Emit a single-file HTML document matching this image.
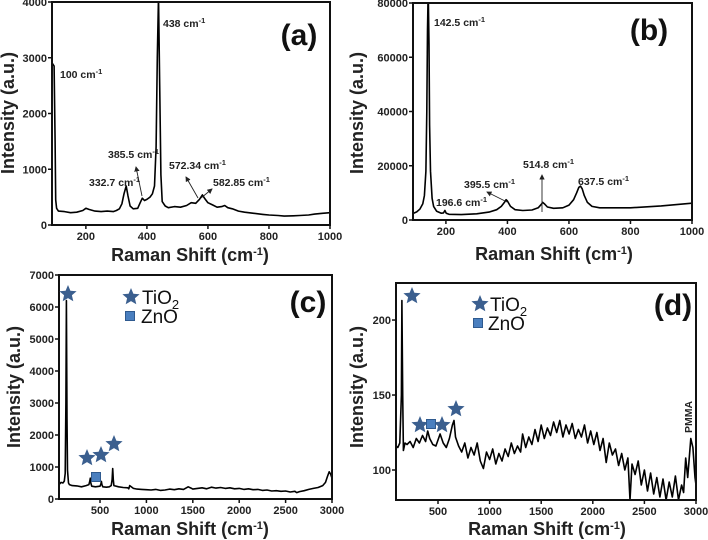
<!DOCTYPE html>
<html><head><meta charset="utf-8">
<style>
html,body{margin:0;padding:0;background:#fff;}
svg{display:block;font-family:"Liberation Sans",Arial,sans-serif;}
.tick{font-size:11px;font-weight:bold;fill:#222;}
.ttl{font-size:18px;font-weight:bold;fill:#222;}
.ann{font-size:10.5px;font-weight:bold;fill:#222;}
.lab{font-size:30px;font-weight:bold;fill:#111;}
.leg{font-size:19px;fill:#111;}
</style></head>
<body>
<svg id="fig" width="708" height="540" viewBox="0 0 708 540">
<defs>
<marker id="ah" markerWidth="6" markerHeight="6" refX="5" refY="3" orient="auto"><path d="M0,0L6,3L0,6z" fill="#222"/></marker>
</defs>
</svg>
<script>
// Panel (a)
const aX=[90,96,99,101,104,110,130,150,170,190,200,210,230,250,270,290,300,310,318,325,332,338,345,355,370,378,385,392,400,410,418,425,430,434,438,442,446,450,460,470,490,510,530,545,560,572,582,590,600,615,630,645,655,665,680,700,720,750,780,800,830,850,880,900,930,950,975,1000];
const aY=[2900,2850,1500,450,300,250,240,220,230,260,300,280,250,240,250,240,260,290,380,560,700,520,340,290,300,400,480,440,460,500,560,700,1400,3000,4100,2500,900,420,340,310,330,320,350,400,390,460,540,470,400,360,320,330,350,310,290,250,230,210,190,180,170,160,165,170,180,195,210,220];
const aXTicks=[200,400,600,800,1000];
const aYTicks=[0,1000,2000,3000,4000];
// Panel (b)
const bX=[95,105,115,125,130,135,138,140,142.5,145,147,150,155,160,170,185,192,196.6,201,210,250,300,340,365,380,390,395.5,400,410,425,450,480,500,510,514.8,520,530,550,580,600,615,625,632,637.5,643,650,660,675,700,800,900,1000];
const bY=[2500,3000,4000,6000,9000,18000,40000,70000,85000,65000,35000,18000,8000,5000,3200,2500,2600,3500,2500,2100,2000,2300,2900,3800,5000,6500,7500,7000,5000,3800,3500,3700,4500,5800,6500,6000,4800,4300,4500,5500,7500,10000,12000,12500,11500,9000,6500,5000,4500,4500,5200,6200];
const bXTicks=[200,400,600,800,1000];
const bYTicks=[0,20000,40000,60000,80000];
// Panel (c)
const cX=[58,80,100,115,125,132,138,144,150,160,170,200,250,300,350,380,390,395,400,410,450,500,510,515,520,530,570,600,620,630,637,643,650,700,750,800,810,820,860,900,950,1000,1050,1100,1150,1200,1250,1300,1350,1400,1450,1480,1500,1550,1600,1650,1700,1750,1800,1850,1900,1950,2000,2050,2100,2150,2200,2250,2300,2350,2400,2450,2500,2550,2600,2620,2650,2700,2750,2800,2850,2900,2930,2950,2970,2985,3000];
const cY=[450,520,500,560,800,3000,6200,2500,900,500,450,420,410,380,420,450,560,650,520,400,380,400,470,550,450,380,370,380,420,600,950,600,420,380,360,350,320,420,330,310,300,290,280,300,270,280,310,290,320,300,380,340,310,330,350,320,370,340,360,330,350,320,330,300,320,290,300,270,280,250,260,240,250,220,240,200,230,260,300,330,360,420,520,700,850,780,650];
const cXTicks=[500,1000,1500,2000,2500,3000];
const cYTicks=[0,1000,2000,3000,4000,5000,6000,7000];
// Panel (d)
const dX=[93,110,130,145,150,158,165,180,200,230,260,290,320,350,380,400,420,450,480,520,550,580,610,640,655,670,700,730,760,790,820,850,880,910,940,970,1000,1030,1060,1090,1120,1150,1180,1210,1240,1270,1300,1320,1350,1380,1410,1440,1470,1500,1530,1560,1590,1620,1650,1680,1710,1740,1770,1800,1830,1860,1890,1920,1950,1980,2010,2040,2070,2100,2130,2160,2190,2220,2250,2280,2310,2340,2360,2380,2410,2440,2470,2500,2530,2560,2590,2620,2650,2680,2710,2740,2770,2800,2830,2860,2880,2900,2920,2950,2970,2990,3000];
const dY=[116,115,118,150,213,150,113,118,117,119,115,121,118,123,119,126,121,117,116,124,118,115,121,130,133,122,116,112,118,108,115,110,118,106,101,112,107,114,104,111,106,114,109,118,111,116,112,124,115,122,117,127,119,130,121,128,123,132,125,133,122,130,124,131,121,127,122,130,118,126,117,125,113,121,105,118,110,114,103,111,100,108,80,104,97,106,90,100,86,98,84,95,82,94,80,92,82,96,80,90,85,108,95,121,115,95,90];
const dXTicks=[500,1000,1500,2000,2500,3000];
const dYTicks=[100,150,200];

const NS="http://www.w3.org/2000/svg";
const svg=document.getElementById('fig');
function mk(tag,attrs,parent){const e=document.createElementNS(NS,tag);for(const k in attrs)e.setAttribute(k,attrs[k]);(parent||svg).appendChild(e);return e;}

function panel(p){
  const g=mk('g',{});
  
  
  const sx=v=>p.L+(v-p.x0)/(p.x1-p.x0)*(p.R-p.L);
  const sy=v=>p.B-(v-p.y0)/(p.y1-p.y0)*(p.B-p.T);
  const cp=mk('clipPath',{id:'clip-'+p.name},g);
  mk('rect',{x:p.L,y:p.T,width:p.R-p.L,height:p.B-p.T},cp);
  const pts=p.xs.map((x,i)=>sx(x).toFixed(1)+','+sy(p.ys[i]).toFixed(1)).join(' ');
  const line=mk('polyline',{points:pts,fill:'none',stroke:'#000','stroke-width':1.6,'stroke-linejoin':'round','clip-path':'url(#clip-'+p.name+')'},g);
  
  
  const fr=mk('rect',{x:p.L,y:p.T,width:p.R-p.L,height:p.B-p.T,fill:'none',stroke:'#111','stroke-width':2},g);
  
  
  p.xt.forEach(v=>{
    const x=sx(v);
    mk('line',{x1:x,y1:p.B,x2:x,y2:p.B+4,stroke:'#111','stroke-width':1.5},g);
    const t=mk('text',{x:x,y:p.B+15,'text-anchor':'middle',class:'tick'},g);
    t.textContent=v;
    
    
  });
  p.yt.forEach(v=>{
    const y=sy(v);
    mk('line',{x1:p.L-4,y1:y,x2:p.L,y2:y,stroke:'#111','stroke-width':1.5},g);
    const t=mk('text',{x:p.L-5,y:y+4,'text-anchor':'end',class:'tick'},g);
    t.textContent=v;
    
    
  });
  const xt=mk('text',{x:p.xlx,y:p.xly,'text-anchor':'middle',class:'ttl'},g);
  xt.innerHTML='Raman Shift (cm<tspan dy="-6" font-size="11">-1</tspan><tspan dy="6">)</tspan>';
  
  
  const yt=mk('text',{x:0,y:0,'text-anchor':'middle',class:'ttl',transform:'translate('+p.ylx+','+p.yly+') rotate(-90)'},g);
  yt.textContent='Intensity (a.u.)';
  
  
  const lb=mk('text',{x:p.lbx,y:p.lby,'text-anchor':'middle',class:'lab'},g);
  lb.textContent=p.lab;
  
  
  return g;
}

panel({name:'panel-a',xs:aX,ys:aY,x0:89,x1:1000,y0:0,y1:4000,L:52,R:330,T:2,B:225,xt:aXTicks,yt:aYTicks,xlx:190,xly:261,ylx:14,yly:113,lab:'(a)',lbx:299,lby:45});
panel({name:'panel-b',xs:bX,ys:bY,x0:93,x1:1000,y0:0,y1:80000,L:413,R:692,T:3,B:220,xt:bXTicks,yt:bYTicks,xlx:554,xly:260,ylx:363,yly:113,lab:'(b)',lbx:649,lby:40});
panel({name:'panel-c',xs:cX,ys:cY,x0:58,x1:3000,y0:0,y1:7000,L:59,R:332,T:275,B:499,xt:cXTicks,yt:cYTicks,xlx:190,xly:535,ylx:20,yly:387,lab:'(c)',lbx:308,lby:312});
panel({name:'panel-d',xs:dX,ys:dY,x0:93,x1:3000,y0:80,y1:224.7,L:396,R:696,T:283,B:500,xt:dXTicks,yt:dYTicks,xlx:547,xly:535,ylx:363,yly:387,lab:'(d)',lbx:673,lby:315});

function star(cx,cy,r,name){
  let d='';
  for(let i=0;i<10;i++){const a=-Math.PI/2+i*Math.PI/5;const rr=i%2?r*0.45:r;d+=(i?'L':'M')+(cx+rr*Math.cos(a)).toFixed(1)+','+(cy+rr*Math.sin(a)).toFixed(1);}
  const s=mk('path',{d:d+'Z',fill:'#3b5f8f'});
  
  
}
function sq(cx,cy,name){
  const s=mk('rect',{x:cx-4.5,y:cy-4.5,width:9,height:9,fill:'#4a7fbf',stroke:'#2f5a8f','stroke-width':1});
  
  
}
function txt(x,y,html,cls,name,extra){
  const t=mk('text',Object.assign({x:x,y:y,class:cls},extra||{}));
  t.innerHTML=html;
  
  
}
function arrow(x1,y1,x2,y2,name){
  const l=mk('line',{x1:x1,y1:y1,x2:x2,y2:y2,stroke:'#222','stroke-width':0.9,'marker-end':'url(#ah)'});
  
  
}
const sup='<tspan dy="-4" font-size="7.5">-1</tspan>';
// (a) annotations
txt(163,27,'438 cm'+sup,'ann','peak-label-438');
txt(60,78,'100 cm'+sup,'ann','peak-label-100');
txt(108,158,'385.5 cm'+sup,'ann','peak-label-385');
txt(89,186,'332.7 cm'+sup,'ann','peak-label-332');
txt(169,169,'572.34 cm'+sup,'ann','peak-label-572');
txt(213,186,'582.85 cm'+sup,'ann','peak-label-582');
arrow(142,196,136,167,'arrow-385');
arrow(198,198,186,177,'arrow-572');
arrow(201,198,212,189,'arrow-582');
// (b) annotations
txt(434,26,'142.5 cm'+sup,'ann','peak-label-142');
txt(436,206,'196.6 cm'+sup,'ann','peak-label-196');
txt(464,188,'395.5 cm'+sup,'ann','peak-label-395');
txt(523,168,'514.8 cm'+sup,'ann','peak-label-514');
txt(578,185,'637.5 cm'+sup,'ann','peak-label-637');
arrow(507,202,487,192,'arrow-395');
arrow(542,212,542,175,'arrow-514');
// (c) markers & legend
star(68,294,9,'tio2-star-marker');
star(87,458,9,'tio2-star-marker');
star(101,455,9,'tio2-star-marker');
star(114,444,9,'tio2-star-marker');
sq(96,477,'zno-square-marker');
star(131,297,9,'legend-tio2-star');
txt(142,304,'TiO<tspan dy="5" font-size="13">2</tspan>','leg','legend-tio2-label');
sq(130,316,'legend-zno-square');
txt(141,323,'ZnO','leg','legend-zno-label');
// (d) markers & legend
star(412,296,9,'tio2-star-marker');
star(420,425,9,'tio2-star-marker');
star(442,425,9,'tio2-star-marker');
star(456,409,9,'tio2-star-marker');
sq(431,424,'zno-square-marker');
star(480,304,9,'legend-tio2-star');
txt(490,311,'TiO<tspan dy="5" font-size="13">2</tspan>','leg','legend-tio2-label');
sq(478,323,'legend-zno-square');
txt(488,330,'ZnO','leg','legend-zno-label');
txt(0,0,'PMMA','ann','pmma-label',{transform:'translate(692,433) rotate(-90)','font-size':'9'});
</script>
</body></html>
